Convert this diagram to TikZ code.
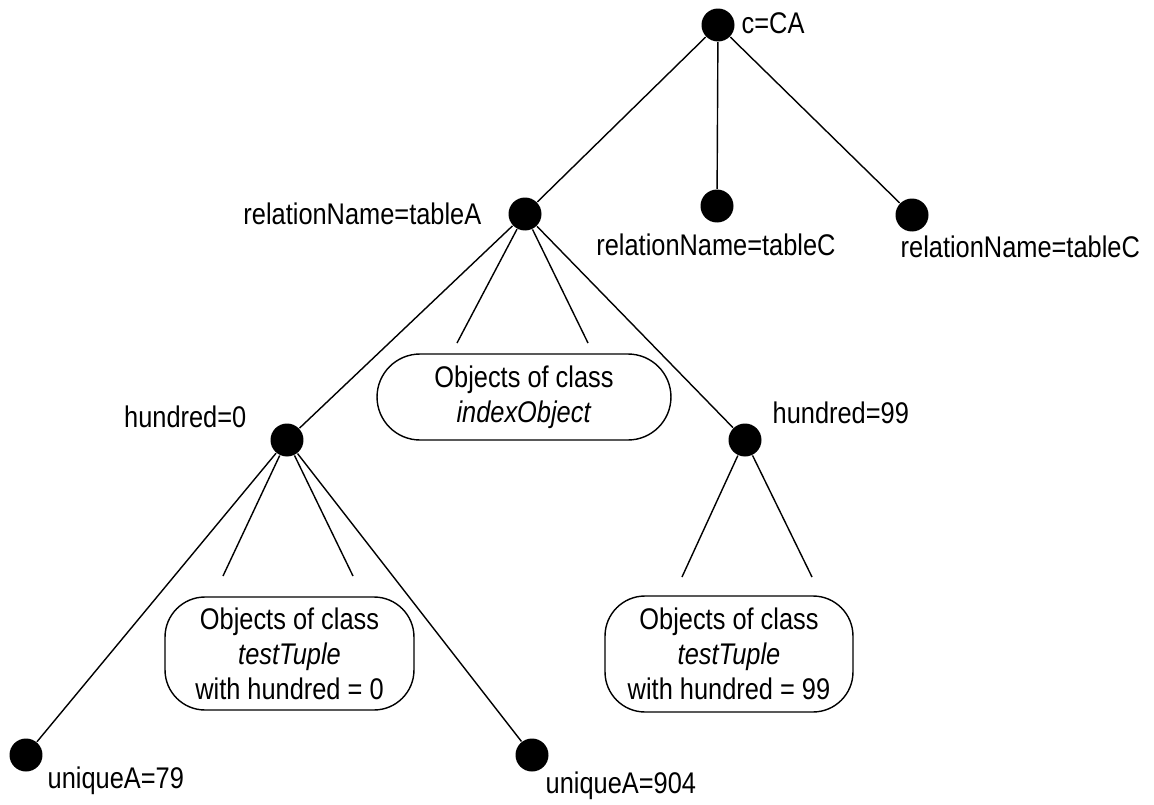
\documentclass[tikz,border=0pt]{standalone}
\usepackage{fontspec}
\setmainfont{Liberation Sans}[FakeStretch=0.85]

\begin{document}
\begin{tikzpicture}[x=0.02cm, y=-0.02cm, line width=0.8pt,
  dot/.style={circle, fill=black, inner sep=0pt, minimum size=0.66cm},
  lbl/.style={font=\fontsize{17}{20}\selectfont, inner sep=0pt},
  objbox/.style={draw, rounded corners=0.8cm, align=center, inner sep=0pt,
    font=\fontsize{17}{20}\selectfont}]

  \useasboundingbox (0,0) rectangle (1154,805);

  % tree nodes
  \node[dot] (root) at (718,25) {};
  \node[lbl, anchor=west] (rootlbl) at (741,23) {c=CA};

  \node[dot] (tabA) at (525,214) {};
  \node[lbl, anchor=east] (tabAlbl) at (482,214) {relationName=tableA};

  \node[dot] (tabCmid) at (717,206) {};
  \node[lbl] (tabCmidlbl) at (716,245) {relationName=tableC};

  \node[dot] (tabCright) at (912,215) {};
  \node[lbl, anchor=west] (tabCrightlbl) at (900,247) {relationName=tableC};

  \node[dot] (hund0) at (287,440) {};
  \node[lbl, anchor=east] (hund0lbl) at (247,417) {hundred=0};

  \node[dot] (hund99) at (745,440) {};
  \node[lbl, anchor=west] (hund99lbl) at (772,413) {hundred=99};

  \node[dot] (uniq79) at (26,755) {};
  \node[lbl, anchor=west] (uniq79lbl) at (47,781) {uniqueA=79};

  \node[dot] (uniq904) at (532,755) {};
  \node[lbl, anchor=west] (uniq904lbl) at (545,786) {uniqueA=904};

  % object boxes
  \node[objbox, minimum width=5.88cm, minimum height=1.72cm, rounded corners=0.86cm]
    (idxbox) at (524,397) {Objects of class\\\textit{indexObject}};
  \node[objbox, minimum width=4.98cm, minimum height=2.26cm]
    (tupbox0) at (289.5,653.5) {Objects of class\\\textit{testTuple}\\with hundred = 0};
  \node[objbox, minimum width=4.96cm, minimum height=2.32cm]
    (tupbox99) at (729,654) {Objects of class\\\textit{testTuple}\\with hundred = 99};

  % free ends of the short lines
  \coordinate (idxL) at (457,343);
  \coordinate (idxR) at (588,343);
  \coordinate (tup0L) at (223,576);
  \coordinate (tup0R) at (353,576);
  \coordinate (tup99L) at (682,577);
  \coordinate (tup99R) at (812,577);

  % edges
  \draw (root) -- (tabA);
  \draw (root) -- (tabCmid);
  \draw (root) -- (tabCright);

  \draw (tabA) -- (hund0);
  \draw (tabA) -- (idxL);
  \draw (tabA) -- (idxR);
  \draw (tabA) -- (hund99);

  \draw (hund0) -- (uniq79);
  \draw (hund0) -- (tup0L);
  \draw (hund0) -- (tup0R);
  \draw (hund0) -- (uniq904);

  \draw (hund99) -- (tup99L);
  \draw (hund99) -- (tup99R);

\end{tikzpicture}
\end{document}
